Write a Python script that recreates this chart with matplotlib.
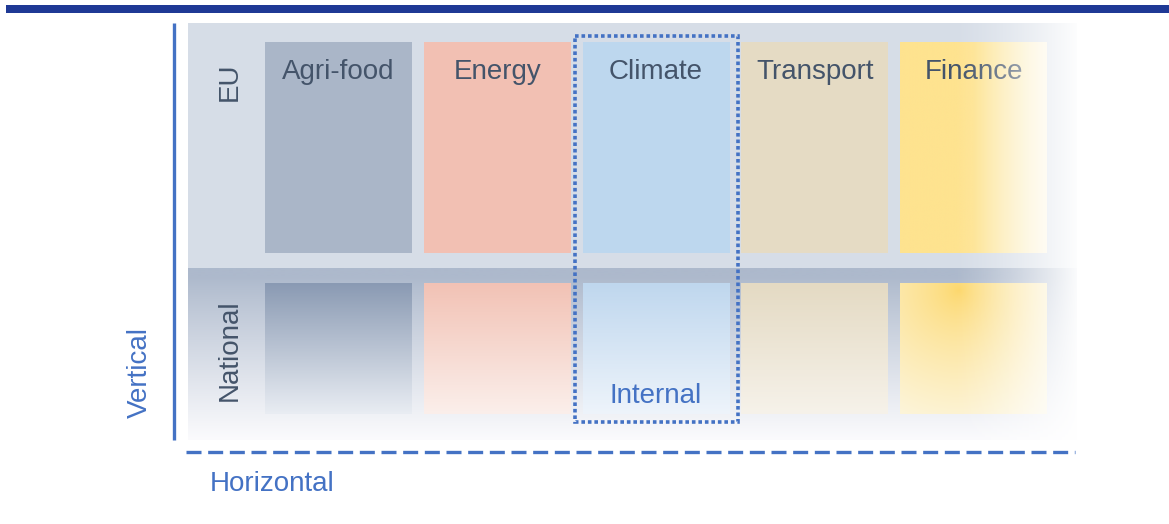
import numpy as np
import matplotlib
matplotlib.use("Agg")
import matplotlib.pyplot as plt
from matplotlib.colors import to_rgb
from matplotlib.patches import Rectangle

plt.rcParams['font.family'] = ['Liberation Sans', 'DejaVu Sans']

# ---- content ----
categories = ["Agri-food", "Energy", "Climate", "Transport", "Finance"]
levels = ["EU", "National"]
eu_colors = ["#aab6c8", "#f2c0b3", "#bdd7ee", "#e5dbc4", "#fee38f"]
nat_top_colors = ["#8a9ab3", "#f2c2b5", "#bfd7ee", "#e4dac3", "#fcd76a"]
nat_bot_colors = ["#e9edf3", "#fbefeb", "#eef4fb", "#f6f2ea", "#fdf8e6"]
highlight_category = "Climate"
highlight_label = "Internal"
axis_labels = ["Vertical", "Horizontal"]

TEXT = "#44546a"
ACCENT = "#4472c4"

W, H = 1169, 524
fig = plt.figure(figsize=(W / 100, H / 100), dpi=100)
ax = fig.add_axes([0, 0, 1, 1])
ax.set_xlim(0, W)
ax.set_ylim(H, 0)
ax.axis("off")


def vgrad(c1, c2, n=200):
    a, b = np.array(to_rgb(c1)), np.array(to_rgb(c2))
    t = np.linspace(0, 1, n)[:, None]
    return (a * (1 - t) + b * t)[:, None, :]


# top bar
ax.add_patch(Rectangle((6, 5), W - 6, 8, color="#1f3995", lw=0, zorder=5))

# panel
px0, px1 = 188, 1077
py0, pmid, py1 = 23, 268, 440
ax.add_patch(Rectangle((px0, py0), px1 - px0, pmid - py0, color="#d6dde7", lw=0, zorder=1))
t = np.linspace(0, 1, 200)
a, b = np.array(to_rgb("#adb9cc")), np.array(to_rgb("#fbfbfd"))
tt = np.clip((t - 0.05) / 0.95, 0, 1) ** 0.9
low = (a * (1 - tt[:, None]) + b * tt[:, None])[:, None, :]
ax.imshow(low, extent=(px0, px1, py1, pmid), aspect="auto", zorder=1, interpolation="bilinear")

# boxes
bx0, pitch, bw = 265, 158.8, 147
eu_y0, eu_y1 = 42, 253
nat_y0, nat_y1 = 283, 414
for i, cat in enumerate(categories):
    x0 = bx0 + i * pitch
    if cat == "Finance":
        s = np.clip((np.linspace(0, 1, 200) - 0.5) / 0.5, 0, 1)
        base = np.array(to_rgb(eu_colors[i]))
        end = np.array(to_rgb("#fdf6de"))
        g = (base * (1 - s[:, None]) + end * s[:, None])[None, :, :].repeat(2, axis=0)
        ax.imshow(g, extent=(x0, x0 + bw, eu_y1, eu_y0), aspect="auto", zorder=2, interpolation="bilinear")
        yy, xx = np.mgrid[0:100, 0:100] / 99.0
        d = np.sqrt((xx - 0.4) ** 2 + ((yy - 0.05) * 0.9) ** 2)
        s2 = np.clip(d / 1.1, 0, 1) ** 0.7
        c1 = np.array(to_rgb(nat_top_colors[i]))
        c2 = np.array(to_rgb(nat_bot_colors[i]))
        img = c1 * (1 - s2[..., None]) + c2 * s2[..., None]
        ax.imshow(img, extent=(x0, x0 + bw, nat_y1, nat_y0), aspect="auto", zorder=2, interpolation="bilinear")
    else:
        ax.add_patch(Rectangle((x0, eu_y0), bw, eu_y1 - eu_y0, color=eu_colors[i], lw=0, zorder=2))
        ax.imshow(vgrad(nat_top_colors[i], nat_bot_colors[i]),
                  extent=(x0, x0 + bw, nat_y1, nat_y0), aspect="auto", zorder=2, interpolation="bilinear")
    ax.text(x0 + bw / 2, 79, cat, ha="center", va="baseline", fontsize=20, color=TEXT, zorder=4)
    if cat == highlight_category:
        ax.text(x0 + bw / 2, 403, highlight_label, ha="center", va="baseline", fontsize=20,
                color=ACCENT, zorder=4)
        ax.add_patch(Rectangle((x0 - 8, 36), bw + 16, 422 - 36, fill=False, ec=ACCENT,
                               lw=2.6, ls=(0, (1, 0.8)), zorder=6))

# right fade overlay
fade = np.zeros((2, 300, 4))
fade[..., :3] = 1.0
s = np.clip((np.linspace(0, 1, 300) - 0.15) / 0.85, 0, 1)
fade[..., 3] = (s ** 1.3) * 0.97
ax.imshow(fade, extent=(930, px1 + 2, py1, py0), aspect="auto", zorder=4.5, interpolation="bilinear")

# row labels
ax.text(230, 82, levels[0], rotation=90, ha="center", va="center", fontsize=20, color=TEXT, zorder=4)
ax.text(230, 350, levels[1], rotation=90, ha="center", va="center", fontsize=20, color=TEXT, zorder=4)

# axes lines
ax.plot([174, 174], [23, 440], color=ACCENT, lw=2.4, solid_capstyle="butt", zorder=6)
ax.plot([186, 1075], [452, 452], color=ACCENT, lw=2.4, ls=(0, (4.5, 2)), zorder=6)
ax.text(140, 372, axis_labels[0], rotation=90, ha="center", va="center", fontsize=20, color=ACCENT)
ax.text(210, 491, axis_labels[1], ha="left", va="baseline", fontsize=20, color=ACCENT)

fig.savefig("out.png", dpi=100)
